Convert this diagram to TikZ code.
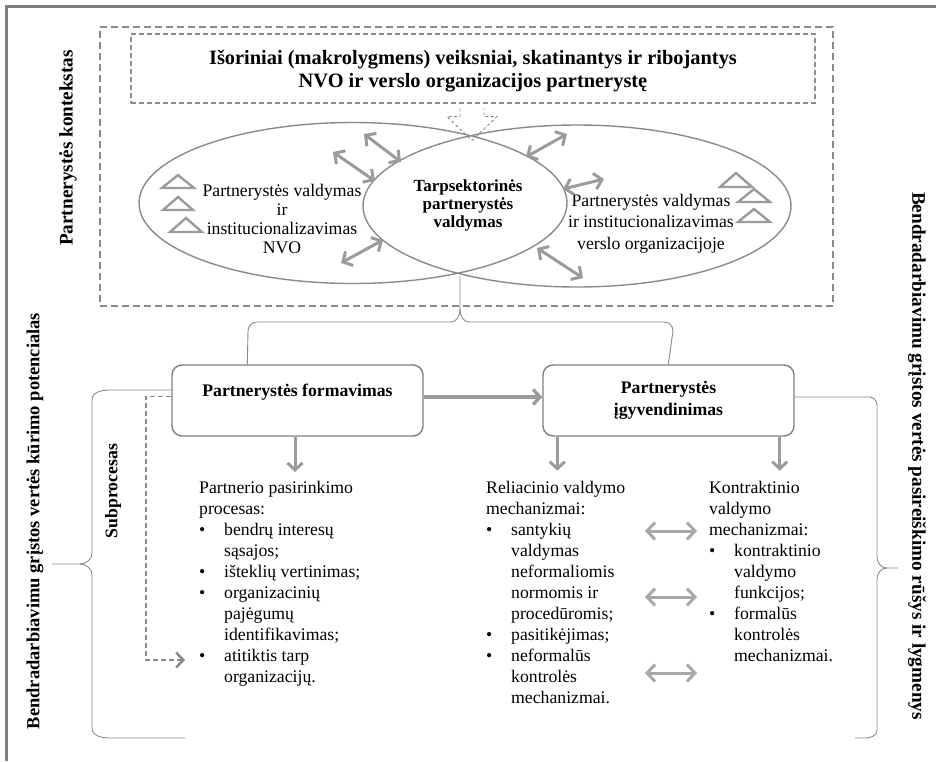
\documentclass[tikz,border=0pt]{standalone}
\usepackage{fontspec}
\setmainfont{Liberation Serif}
\usetikzlibrary{arrows.meta,calc,shapes.geometric}

\definecolor{framegray}{HTML}{7F7F7F}
\definecolor{linegray}{HTML}{8A8A8A}
\definecolor{arrowgray}{HTML}{9B9B9B}
\definecolor{softgray}{HTML}{A8A8A8}

\newcommand{\fs}{\fontsize{17.7}{21}\selectfont}
\newcommand{\bitem}[1]{\makebox[25pt][l]{\textbullet}#1}
\newcommand{\cont}[1]{\hspace*{25pt}#1}

\begin{document}
\begin{tikzpicture}[x=1pt,y=-1pt,
  ctxframe/.style={draw=linegray, line width=1.8pt, dash pattern=on 7pt off 4pt},
  extbox/.style={draw=linegray, line width=1.1pt, dash pattern=on 5pt off 3pt},
  ovalshape/.style={ellipse, draw=linegray, line width=1.4pt, inner sep=0pt},
  procbox/.style={draw=framegray, line width=1.4pt, rounded corners=10pt, fill=white,
                  minimum width=251pt, minimum height=71pt, align=center},
  thinline/.style={draw=linegray, line width=0.9pt},
  fat/.style={draw=arrowgray, line width=3pt, -{Straight Barb[length=7pt,width=15pt]}},
  fatboth/.style={draw=arrowgray, line width=3pt,
                  {Straight Barb[length=7.5pt,width=16pt]}-{Straight Barb[length=7.5pt,width=16pt]}},
  softboth/.style={draw=softgray, line width=3pt,
                  {Straight Barb[length=8pt,width=17pt]}-{Straight Barb[length=8pt,width=17pt]}},
  tri/.style={draw=arrowgray, line width=2.4pt, line join=miter},
  txt/.style={font=\fs, align=center, inner sep=0pt},
  btxt/.style={font=\bfseries\fs, align=center, inner sep=0pt},
  block/.style={font=\fs, align=left, inner sep=0pt, anchor=north west},
  sidelabel/.style={font=\bfseries\fontsize{19.2}{22}\selectfont, inner sep=0pt}
]
\useasboundingbox (0,0) rectangle (936,761);

% page frame (left and top)
\draw[framegray, line width=3pt] (6,761) -- (6,6) -- (936,6);

% partnership context
\node[ctxframe, minimum width=733pt, minimum height=279pt] (ctx) at (466.5,166.5) {};
\node[sidelabel, rotate=90] (ctxlabel) at (68,148) {Partnerystės kontekstas};

% external factors box
\node[extbox, minimum width=684pt, minimum height=69pt] (ext) at (473,68.5) {};
\node[btxt, font=\bfseries\fontsize{20.4}{23}\selectfont] (exttitle) at (473,71.5)
  {Išoriniai (makrolygmens) veiksniai, skatinantys ir ribojantys\\NVO ir verslo organizacijos partnerystę};

% dashed block arrow from the box down to the ovals
\draw[draw=linegray, line width=0.9pt, dash pattern=on 3pt off 2.5pt]
  ($(ext.south)+(-13,5)$) -- ($(ext.south)+(-13,13)$) -- ($(ext.south)+(-26,13)$)
  -- ($(ext.south)+(-1,37)$) -- ($(ext.south)+(24,13)$) -- ($(ext.south)+(11,13)$)
  -- ($(ext.south)+(11,5)$);

% the two overlapping ovals
\node[ovalshape, minimum width=428pt, minimum height=161pt] (ngo) at (353,203) {};
\node[ovalshape, minimum width=428pt, minimum height=162pt] (biz) at (577,206) {};

\node[txt, font=\fontsize{17.7}{19}\selectfont] (ngotxt) at (282,218.5)
  {Partnerystės valdymas\\ir\\institucionalizavimas\\NVO};
\node[btxt, font=\bfseries\fontsize{17}{18}\selectfont] (midtxt) at (468,205)
  {Tarpsektorinės\\partnerystės\\valdymas};
\node[txt, font=\fontsize{17.7}{21.5}\selectfont] (biztxt) at (651,223.5)
  {Partnerystės valdymas\\ir institucionalizavimas\\verslo organizacijoje};

% triangles in the NGO oval
\draw[tri] (162,188) -- (178,175) -- (194,188) -- cycle;
\draw[tri] (163,210) -- (178,197) -- (193,210) -- cycle;
\draw[tri] (170,232) -- (186,218) -- (202,232) -- cycle;
% triangles in the business oval
\draw[tri] (720,187) -- (736,173) -- (752,187) -- cycle;
\draw[tri] (738,202) -- (754,189) -- (770,202) -- cycle;
\draw[tri] (738,222) -- (754,209) -- (770,222) -- cycle;

% interaction arrows across the overlap
\draw[fatboth] (364,134) -- (401,162);
\draw[fatboth] (333,152) -- (375,181);
\draw[fatboth] (341,263) -- (383,240);
\draw[fatboth] (526,157) -- (567,134);
\draw[fatboth] (563,189) -- (604,179);
\draw[fatboth] (537,248) -- (583,278);

% process boxes
\node[procbox] (form) at (297.5,400.5) {};
\node[btxt] (formtxt) at (297.5,392) {Partnerystės formavimas};
\node[procbox, font=\bfseries\fontsize{17.7}{22}\selectfont] (impl) at (668.5,400.5)
  {Partnerystės\\įgyvendinimas};

% brace linking the ovals to both processes
\draw[thinline] ($(form.north west)+(76,0)$) -- (248,331) to[out=90,in=180] (257,322)
  -- (451,322) to[out=0,in=-90] (460,309) -- (460,276);
\draw[thinline] (460,309) to[out=-90,in=180] (469,322) -- (664,322)
  to[out=0,in=90] (673,331) -- ($(impl.north west)+(126,0)$);

% main flow
\draw[fat, line width=3.3pt] ($(form.east)+(0,-3.5)$) -- ($(impl.west)+(0,-3.5)$);
\draw[fat] (form.south -| 295,0) -- (295,472);
\draw[fat] ($(impl.south west)+(15,0)$) -- ($(impl.south west)+(15,34)$);
\draw[fat] ($(impl.south east)+(-15,0)$) -- ($(impl.south east)+(-15,34)$);

% value creation potential brace (left)
\draw[thinline] ($(form.west)+(0,-10.5)$) -- (110,390) to[out=180,in=90] (92,400)
  -- (92,553) to[out=-90,in=0] (80,564) -- (52,564);
\draw[thinline] (80,564) to[out=0,in=90] (92,575) -- (92,728)
  to[out=-90,in=180] (110,738) -- (185,738);
\node[sidelabel, font=\bfseries\fontsize{18.5}{22}\selectfont, rotate=90] (leftlabel) at (35,521)
  {Bendradarbiavimu grįstos vertės kūrimo potencialas};

% value manifestation brace (right)
\draw[thinline] (impl.east |- 0,397) -- (869,397) to[out=0,in=90] (877,405)
  -- (877,557) to[out=-90,in=180] (887,568) -- (898,568);
\draw[thinline] (887,568) to[out=180,in=90] (877,579) -- (877,730)
  to[out=-90,in=0] (865,738) -- (855,738);
\node[sidelabel, rotate=-90] (rightlabel) at (917,456)
  {Bendradarbiavimu grįstos vertės pasireiškimo rūšys ir lygmenys};

% subprocess marker
\node[sidelabel, font=\bfseries\fontsize{17.7}{21}\selectfont, rotate=90] (sublabel) at (113,491) {Subprocesas};
\coordinate (subend) at (185,660);
\draw[draw=linegray, line width=1.1pt, dash pattern=on 5pt off 3pt,
      -{Straight Barb[length=7pt,width=15pt,line width=2.6pt]}]
  ($(form.west)+(0,-4)$) -- (146,396.5) -- (146,660) -- (subend);

% partner selection
\node[block] (select) at (199,478.3)
  {\strut Partnerio pasirinkimo\\procesas:\\\bitem{bendrų interesų}\\\cont{sąsajos;}\\
   \bitem{išteklių vertinimas;}\\\bitem{organizacinių}\\\cont{pajėgumų}\\
   \cont{identifikavimas;}\\\bitem{atitiktis tarp}\\\cont{organizacijų.}};

% relational governance
\node[block] (rel) at (486,478.3)
  {\strut Reliacinio valdymo\\mechanizmai:\\\bitem{santykių}\\\cont{valdymas}\\
   \cont{neformaliomis}\\\cont{normomis ir}\\\cont{procedūromis;}\\
   \bitem{pasitikėjimas;}\\\bitem{neformalūs}\\\cont{kontrolės}\\\cont{mechanizmai.}};

% contractual governance
\node[block] (con) at (709,478.3)
  {\strut Kontraktinio\\valdymo\\mechanizmai:\\\bitem{kontraktinio}\\\cont{valdymo}\\
   \cont{funkcijos;}\\\bitem{formalūs}\\\cont{kontrolės}\\\cont{mechanizmai.}};

% links between relational and contractual mechanisms
\draw[softboth] (645,531) -- (697,531);
\draw[softboth] (645,597) -- (697,597);
\draw[softboth] (645,673) -- (697,673);
\end{tikzpicture}
\end{document}
